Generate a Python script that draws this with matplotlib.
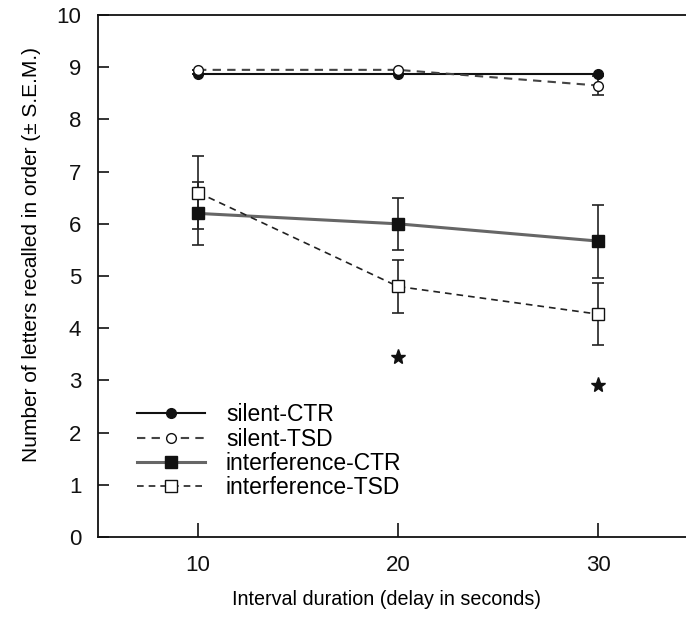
import numpy as np
import matplotlib.pyplot as plt

plt.rcParams['font.family'] = ['Liberation Sans', 'DejaVu Sans']

# delay conditions (s)
delay = [10, 20, 30]

# mean letters recalled in order, with S.E.M.
silent_ctr = [8.87, 8.87, 8.87]
silent_ctr_err = [0.0, 0.0, 0.0]
silent_tsd = [8.95, 8.95, 8.65]
silent_tsd_err = [0.0, 0.0, 0.18]
interf_ctr = [6.2, 6.0, 5.67]
interf_ctr_err = [0.6, 0.5, 0.7]
interf_tsd = [6.6, 4.8, 4.27]
interf_tsd_err = [0.7, 0.5, 0.6]

# significance marks
star_x = [20, 30]
star_y = [3.45, 2.91]

fig = plt.figure(figsize=(6.86, 6.27), dpi=100)
ax = fig.add_axes([0.1429, 0.1435, 0.8571, 0.8325])

eb = dict(capsize=4, elinewidth=1.2, capthick=1.2, ecolor='#222222')

c1 = ax.errorbar(delay, silent_ctr, yerr=silent_ctr_err, color='#111111',
                 lw=1.5, marker='o', ms=7, mfc='#111111', mec='#111111',
                 label='silent-CTR', **eb)
c2 = ax.errorbar(delay, silent_tsd, yerr=silent_tsd_err, color='#444444',
                 lw=1.5, ls=(0, (4, 3)), marker='o', ms=7, mfc='white',
                 mec='#111111', label='silent-TSD', **eb)
c3 = ax.errorbar(delay, interf_ctr, yerr=interf_ctr_err, color='#666666',
                 lw=2.2, marker='s', ms=8, mfc='#111111', mec='#111111',
                 label='interference-CTR', **eb)
c4 = ax.errorbar(delay, interf_tsd, yerr=interf_tsd_err, color='#222222',
                 lw=1.2, ls=(0, (4, 3)), marker='s', ms=8, mfc='white',
                 mec='#111111', label='interference-TSD', **eb)

ax.plot(star_x, star_y, ls='none', marker='*', ms=11, color='#111111')

ax.set_xlim(5, 34.4)
ax.set_ylim(0, 10)
ax.set_xticks(delay)
ax.set_yticks(range(0, 11))

ax.spines['right'].set_visible(False)
for side in ['left', 'bottom', 'top']:
    ax.spines[side].set_linewidth(1.3)
    ax.spines[side].set_color('#111111')

ax.tick_params(axis='both', direction='in', labelsize=16, colors='#111111',
               width=1.2)
ax.tick_params(axis='y', length=8, pad=12)
ax.tick_params(axis='x', length=10, pad=13)

# a few of the y tick marks are printed lighter
for val, tick in zip(range(0, 11), ax.yaxis.get_major_ticks()):
    if val in (3, 6, 7, 8, 9):
        tick.tick1line.set_color('#888888')

ax.set_xlabel('Interval duration (delay in seconds)', fontsize=14.2)
ax.xaxis.set_label_coords(0.49, -0.102)
ax.set_ylabel('Number of letters recalled in order (\u00b1 S.E.M.)',
              fontsize=15)
ax.yaxis.set_label_coords(-0.097, 0.541)

# legend shows plain line + marker, no error bars
handles = [c[0] for c in (c1, c2, c3, c4)]
labels = ['silent-CTR', 'silent-TSD', 'interference-CTR', 'interference-TSD']
ax.legend(handles, labels, loc='upper left', bbox_to_anchor=(0.05, 0.2735),
          frameon=False, fontsize=16.5, handlelength=3.0, handletextpad=0.9,
          labelspacing=0.05, borderaxespad=0)

fig.savefig('out.png', dpi=100)
